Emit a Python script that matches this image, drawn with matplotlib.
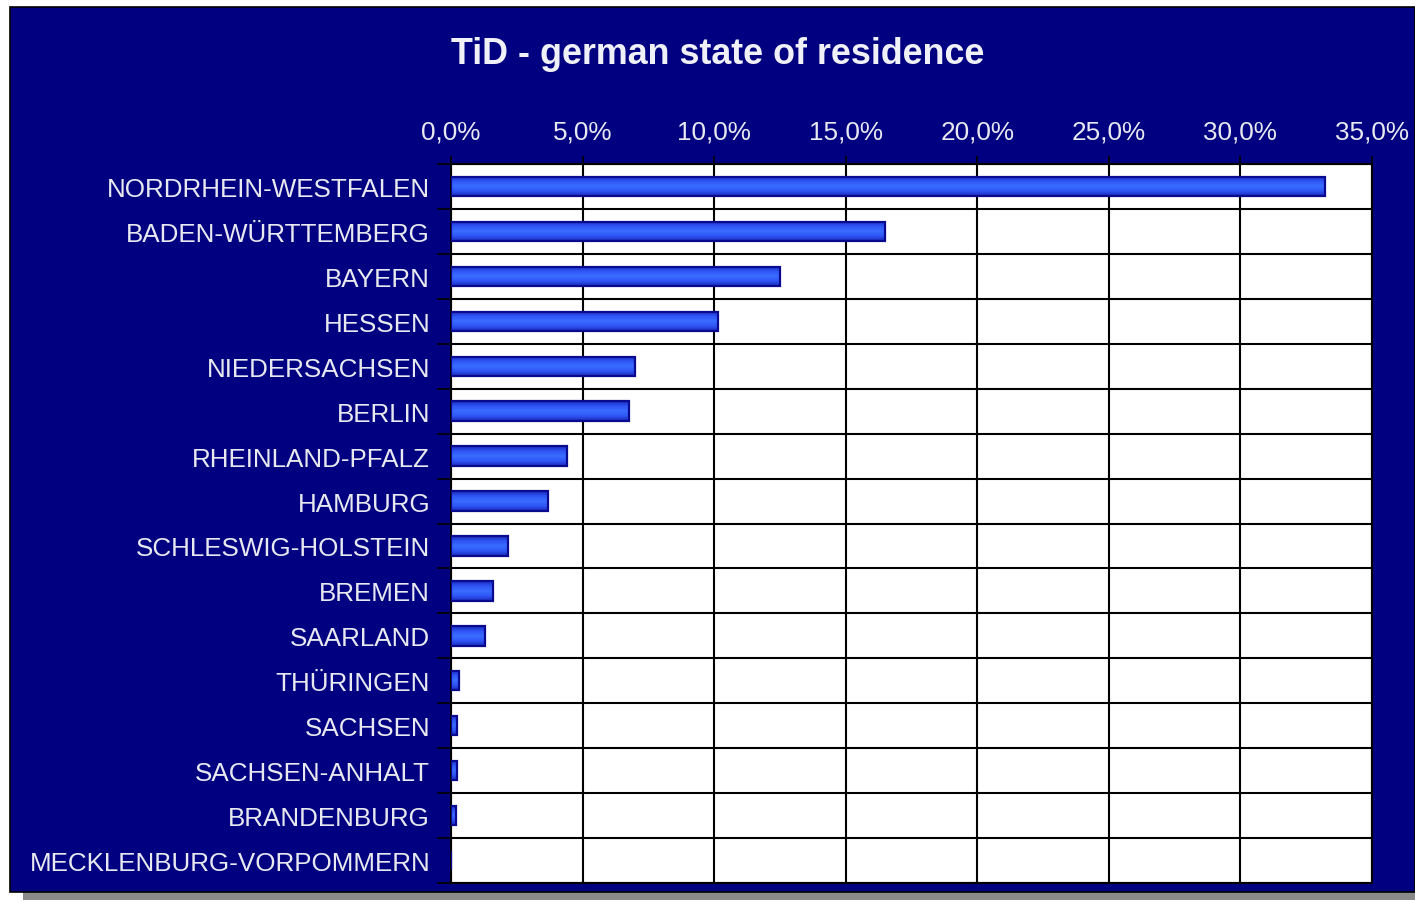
import numpy as np
import matplotlib
matplotlib.use("Agg")
import matplotlib.pyplot as plt
from matplotlib.patches import Rectangle
from matplotlib.ticker import FixedLocator, FuncFormatter
from matplotlib.colors import LinearSegmentedColormap

states = ["NORDRHEIN-WESTFALEN", "BADEN-WÜRTTEMBERG", "BAYERN", "HESSEN",
          "NIEDERSACHSEN", "BERLIN", "RHEINLAND-PFALZ", "HAMBURG",
          "SCHLESWIG-HOLSTEIN", "BREMEN", "SAARLAND", "THÜRINGEN",
          "SACHSEN", "SACHSEN-ANHALT", "BRANDENBURG", "MECKLENBURG-VORPOMMERN"]
shares = [33.2, 16.5, 12.5, 10.15, 7.0, 6.75, 4.4, 3.7,
          2.15, 1.6, 1.3, 0.3, 0.22, 0.22, 0.18, 0.0]
x_ticks = [0, 5, 10, 15, 20, 25, 30, 35]

plt.rcParams['font.family'] = ['Liberation Sans', 'DejaVu Sans']

W, H = 1415, 904
fig = plt.figure(figsize=(W / 100, H / 100), dpi=100, facecolor='white')
navy = '#000080'

# shadow and navy frame
fig.patches.append(Rectangle((23 / W, (H - 901) / H), (W - 23) / W, 10 / H,
                             transform=fig.transFigure, facecolor='#8a8a8a',
                             edgecolor='none', zorder=0))
fig.patches.append(Rectangle((10 / W, (H - 893) / H), (W - 10) / W, 885 / H,
                             transform=fig.transFigure, facecolor=navy,
                             edgecolor='black', linewidth=1.2, zorder=1))

ax = fig.add_axes([451 / W, 1 - 884 / H, (1372 - 451) / W, (884 - 165) / H])
ax.set_facecolor('white')
ax.set_zorder(2)

n = len(states)
ypos = np.arange(n)
bars = ax.barh(ypos, shares, height=0.43, color='#2a50f0',
               edgecolor='#0a0a90', linewidth=1.6, zorder=3)

# gradient fill clipped to each bar
grad = np.concatenate([np.linspace(0, 1, 50), np.linspace(1, 0, 50)]).reshape(-1, 1)
cmap = LinearSegmentedColormap.from_list('barg', ['#1a2ab8', '#2f55f5', '#3a6cff'])
for b in bars:
    x0, y0 = b.get_x(), b.get_y()
    w, h = b.get_width(), b.get_height()
    if w <= 0:
        continue
    im = ax.imshow(grad, cmap=cmap, aspect='auto', extent=[x0, x0 + w, y0, y0 + h],
                   origin='lower', zorder=3.5, interpolation='bilinear')
    im.set_clip_path(b)
    b.set_facecolor('none')
    b.set_zorder(4)

ax.set_xlim(0, 35)
ax.set_ylim(n - 0.5, -0.5)

ax.xaxis.tick_top()
ax.xaxis.set_major_locator(FixedLocator(x_ticks))
ax.xaxis.set_major_formatter(FuncFormatter(lambda v, p: f"{v:.1f}".replace('.', ',') + '%'))
ax.tick_params(axis='x', which='major', direction='out', length=6, width=1.2,
               colors='black', labelcolor='#e8e8f0', labelsize=18.8, pad=9)

ax.yaxis.set_major_locator(FixedLocator(np.arange(-0.5, n, 1.0)))
ax.yaxis.set_major_formatter(FuncFormatter(lambda v, p: ''))
ax.set_yticks(ypos, minor=True)
ax.set_yticklabels(states, minor=True)
ax.tick_params(axis='y', which='major', direction='out', length=10, width=1.2, colors='black')
ax.tick_params(axis='y', which='minor', length=0, labelcolor='#e8e8f0', labelsize=18.7, pad=15)

ax.grid(True, which='major', color='black', linewidth=1.5, zorder=1)
ax.set_axisbelow(True)
for s in ax.spines.values():
    s.set_color('black')
    s.set_linewidth(1.5)

fig.text(718 / W, 1 - 54 / H, "TiD - german state of residence", color='#f0f0f8',
         fontsize=25.8, fontweight='bold', ha='center', va='center', zorder=5)

fig.savefig('out.png', dpi=100, facecolor='white')
